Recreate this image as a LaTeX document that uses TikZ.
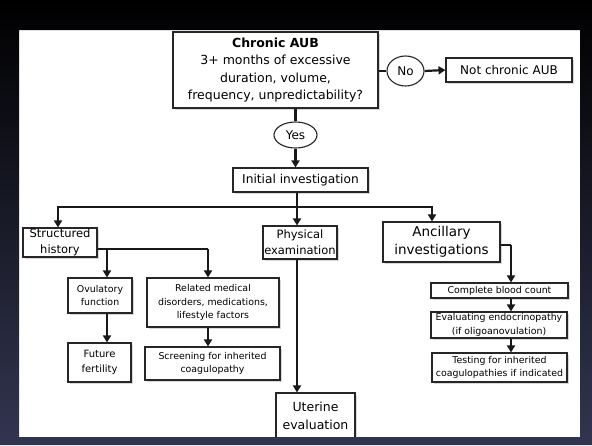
\documentclass[tikz,border=0pt]{standalone}
\usepackage{fontspec}
\setmainfont{DejaVu Sans}
\usepackage{tikz}
\usetikzlibrary{arrows.meta,shapes.geometric,shadows}

\definecolor{framenavy}{RGB}{50,53,80}

\begin{document}
\begin{tikzpicture}[x=1pt,y=-1pt,
    box/.style={draw=black!85, line width=1.1pt, fill=white, inner sep=0pt, align=center,
      drop shadow={shadow xshift=1.5pt, shadow yshift=-1.5pt, fill=black!30}},
    smallbox/.style={box, font=\fontsize{9.4}{13.5}\selectfont},
    midbox/.style={box, font=\fontsize{11.5}{16}\selectfont},
    bigbox/.style={box, font=\fontsize{12.5}{17.5}\selectfont},
    answer/.style={ellipse, draw=black!85, line width=1.1pt, fill=white, inner sep=0pt,
      font=\fontsize{12}{14}\selectfont},
    conn/.style={line width=2.2pt, black!90},
    arr/.style={conn, -{Triangle[width=8pt,length=7pt]}}]

      \useasboundingbox (0,0) rectangle (592,445);
      \fill[white] (19,30) rectangle (580,437);

      % question and answers
      \node[bigbox, minimum width=205pt, minimum height=76pt] (chronic) at (275.5,70)
        {\textbf{Chronic AUB}\\3+ months of excessive\\duration, volume,\\frequency, unpredictability?};
      \node[answer, minimum width=37pt, minimum height=30pt] (no) at (405.5,71) {No};
      \node[box, font=\fontsize{12}{14}\selectfont, minimum width=126pt, minimum height=24pt] (notaub) at (509,70) {Not chronic AUB};
      \node[answer, minimum width=43pt, minimum height=26pt] (yes) at (295.5,135) {Yes};
      \node[box, font=\fontsize{12.2}{14}\selectfont, minimum width=135pt, minimum height=24pt] (initial) at (300.5,180) {Initial investigation};

      % three branches
      \node[midbox, minimum width=74pt, minimum height=29pt] (history) at (60,242.5) {Structured\\history};
      \node[midbox, minimum width=74pt, minimum height=33pt] (physical) at (300,242.5) {Physical\\examination};
      \node[box, font=\fontsize{13.5}{18}\selectfont, minimum width=117pt, minimum height=40pt] (ancillary) at (441.5,242) {Ancillary\\investigations};

      % history column
      \node[smallbox, minimum width=64pt, minimum height=35pt] (ovulatory) at (100,295.5) {Ovulatory\\function};
      \node[smallbox, minimum width=132pt, minimum height=49pt] (related) at (213,302.5)
        {Related medical\\disorders, medications,\\lifestyle factors};
      \node[smallbox, font=\fontsize{10}{15}\selectfont, minimum width=63pt, minimum height=39pt] (future) at (99.5,362.5) {Future\\fertility};
      \node[smallbox, minimum width=135pt, minimum height=33pt] (screening) at (212.5,363.5)
        {Screening for inherited\\coagulopathy};

      % physical column
      \node[box, font=\fontsize{12.5}{18}\selectfont, minimum width=79pt, minimum height=46pt] (uterine) at (315.5,416) {Uterine\\evaluation};

      % ancillary column
      \node[smallbox, minimum width=137pt, minimum height=15pt] (cbc) at (499.5,290.5) {Complete blood count};
      \node[smallbox, minimum width=136pt, minimum height=26pt] (endo) at (499,325)
        {Evaluating endocrinopathy\\(if oligoanovulation)};
      \node[smallbox, minimum width=135pt, minimum height=29pt] (testing) at (499.5,367.5)
        {Testing for inherited\\coagulopathies if indicated};

      % junctions
      \coordinate (bus) at (297,207);
      \coordinate (hk) at (107,249);
      \coordinate (hj) at (208,249);
      \coordinate (aj) at (511,245);

      % connectors
      \draw[conn] (chronic.east |- no.west) -- (no.west);
      \draw[arr] (no.east) -- (notaub.west);
      \draw[conn] (yes.north |- chronic.south) -- (yes.north);
      \draw[arr] (yes.south) -- (yes.south |- initial.north);
      \draw[conn] (initial.south -| bus) -- (bus);
      \draw[arr] (bus) -| ([xshift=-2pt]history.north);
      \draw[arr] (bus) -| ([xshift=-9.5pt]ancillary.north);
      \draw[arr] (bus) -- (bus |- physical.north);
      \draw[conn] (history.east |- hj) -- (hj);
      \draw[arr] (hk) -- (hk |- ovulatory.north);
      \draw[arr] (hj) -- (hj |- related.north);
      \draw[arr] (ovulatory.south -| hk) -- (hk |- future.north);
      \draw[arr] (related.south -| hj) -- (hj |- screening.north);
      \draw[arr] (physical.south -| bus) -- (bus |- uterine.north);
      \draw[conn] (ancillary.east |- aj) -- (aj);
      \draw[arr] (aj) -- (aj |- cbc.north);
      \draw[arr] (cbc.south -| aj) -- (aj |- endo.north);
      \draw[arr] (endo.south -| aj) -- (aj |- testing.north);

      % dark frame
      \shade[even odd rule, top color=black, bottom color=framenavy]
        (0,0) rectangle (592,445) (19,30) rectangle (580,437);

    \end{tikzpicture}
\end{document}
